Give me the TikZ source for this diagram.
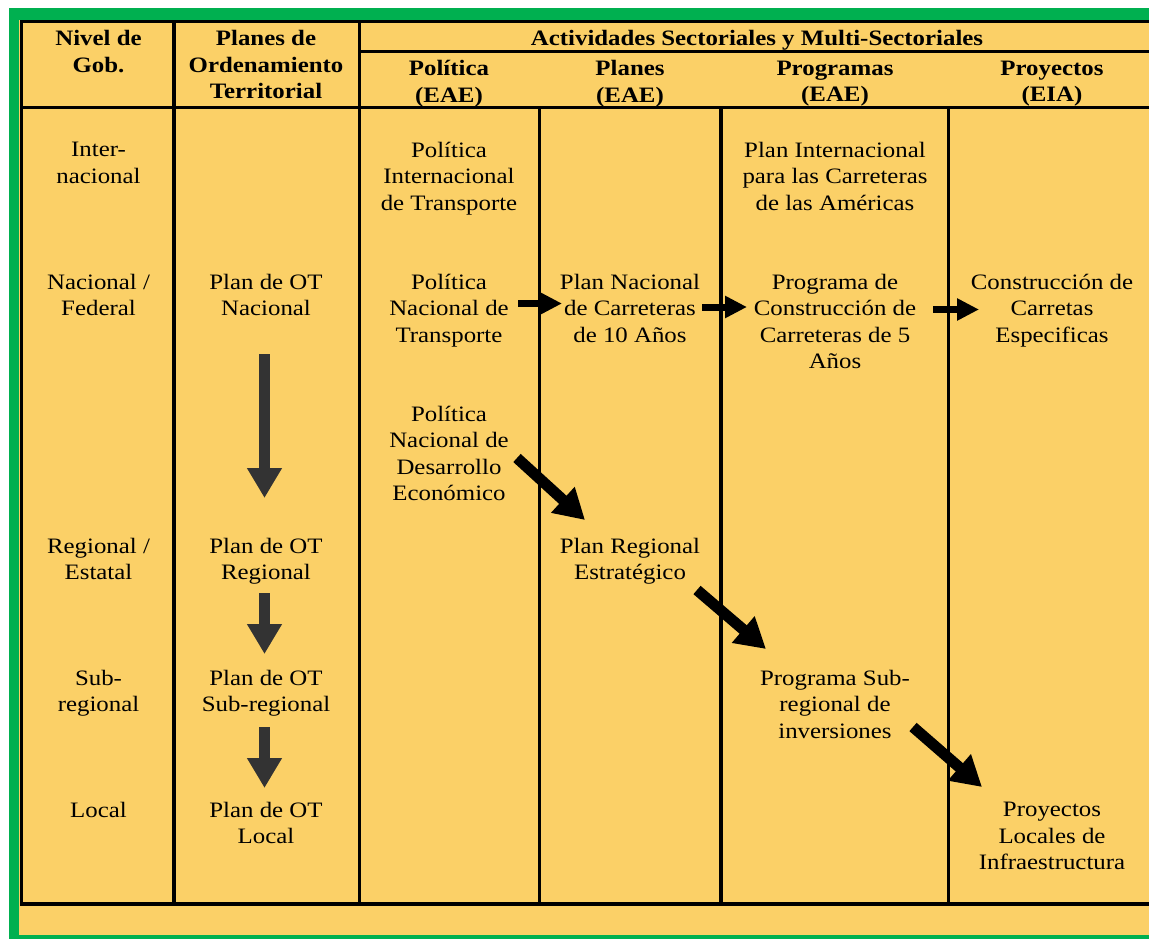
\documentclass[tikz,border=0pt]{standalone}
\usepackage{fontspec}
\setmainfont{Liberation Serif}[FakeStretch=1.13]
\usetikzlibrary{arrows.meta}
\definecolor{bgyellow}{HTML}{FBD067}
\definecolor{framegreen}{HTML}{00B050}
\definecolor{darkarrow}{HTML}{333333}
\begin{document}
\begin{tikzpicture}[x=1pt,y=-1pt,
  txt/.style={anchor=north, align=center, inner sep=0pt, font=\fontsize{22}{26.4}\selectfont},
  hdr/.style={anchor=north, align=center, inner sep=0pt, font=\fontsize{22}{26.6}\selectfont\bfseries},
  gridline/.style={line width=3.5pt},
  bigarrow/.style={darkarrow, line width=11pt, -{Triangle[width=33pt,length=30pt]}},
  diagarrow/.style={black, line width=11pt, -{Triangle[width=33pt,length=30pt]}},
  smallarrow/.style={black, line width=7pt, -{Triangle[width=21pt,length=22pt]}},
]
\useasboundingbox (0,0) rectangle (1149,939);
% background and frame
\fill[framegreen] (9,8) rectangle (1149,939);
\fill[bgyellow] (19,20) rectangle (1149,935);
% table lines
\draw[gridline] (1149,21.5) -| (21.5,904) -- (1149,904);
\draw[gridline] (21.5,107.5) -- (1149,107.5);
\draw[gridline] (359.5,51.5) -- (1149,51.5);
\draw[gridline] (174,21.5) -- (174,904);
\draw[gridline] (359.5,21.5) -- (359.5,904);
\draw[gridline] (539.5,107.5) -- (539.5,904);
\draw[gridline] (721,107.5) -- (721,904);
\draw[gridline] (948.5,107.5) -- (948.5,904);
% header
\node[hdr] (hnivel) at (98.5,30) {Nivel de\\Gob.};
\node[hdr] (hplanesot) at (266,30) {Planes de\\Ordenamiento\\Territorial};
\node[hdr] (hact) at (757,30) {Actividades Sectoriales y Multi-Sectoriales};
\node[hdr] (hpol) at (449,60.5) {Política\\(EAE)};
\node[hdr] (hpla) at (630,60.5) {Planes\\(EAE)};
\node[hdr] (hprg) at (835,60.5) {Programas\\(EAE)};
\node[hdr] (hpry) at (1052,60.5) {Proyectos\\(EIA)};
% column 1
\node[txt] (lint) at (98.5,142) {Inter-\\nacional};
\node[txt] (lnac) at (98.5,274) {Nacional /\\Federal};
\node[txt] (lreg) at (98.5,538) {Regional /\\Estatal};
\node[txt] (lsub) at (98.5,670) {Sub-\\regional};
\node[txt] (lloc) at (98.5,802) {Local};
% column 2
\node[txt] (otn) at (266,274) {Plan de OT\\Nacional};
\node[txt] (otr) at (266,538) {Plan de OT\\Regional};
\node[txt] (ots) at (266,670) {Plan de OT\\Sub-regional};
\node[txt] (otl) at (266,802) {Plan de OT\\Local};
% column 3
\node[txt] (pit) at (449,142) {Política\\Internacional\\de Transporte};
\node[txt] (pnt) at (449,274) {Política\\Nacional de\\Transporte};
\node[txt] (pnd) at (449,406) {Política\\Nacional de\\Desarrollo\\Económico};
% column 4
\node[txt] (pnc) at (630,274) {Plan Nacional\\de Carreteras\\de 10 Años};
\node[txt] (pre) at (630,538) {Plan Regional\\Estratégico};
% column 5
\node[txt] (pic) at (835,142) {Plan Internacional\\para las Carreteras\\de las Américas};
\node[txt] (pcc) at (835,274) {Programa de\\Construcción de\\Carreteras de 5\\Años};
\node[txt] (psi) at (835,670) {Programa Sub-\\regional de\\inversiones};
% column 6
\node[txt] (cce) at (1052,274) {Construcción de\\Carretas\\Especificas};
\node[txt] (pli) at (1052,802) {Proyectos\\Locales de\\Infraestructura};
% arrow end points
\coordinate (va1) at (264.5,354);
\coordinate (vb1) at (264.5,498);
\coordinate (va2) at (264.5,593);
\coordinate (vb2) at (264.5,654);
\coordinate (va3) at (264.5,727);
\coordinate (vb3) at (264.5,788);
\coordinate (ha1) at (518,303.5);
\coordinate (hb1) at (562,303.5);
\coordinate (ha2) at (702,307);
\coordinate (hb2) at (747,307);
\coordinate (ha3) at (933,309.5);
\coordinate (hb3) at (979,309.5);
\coordinate (da1) at (517,458);
\coordinate (db1) at (585,520);
\coordinate (da2) at (697,590);
\coordinate (db2) at (766,649);
\coordinate (da3) at (913,727);
\coordinate (db3) at (982,787);
% arrows
\draw[bigarrow] (va1) -- (vb1);
\draw[bigarrow] (va2) -- (vb2);
\draw[bigarrow] (va3) -- (vb3);
\draw[smallarrow] (ha1) -- (hb1);
\draw[smallarrow] (ha2) -- (hb2);
\draw[smallarrow] (ha3) -- (hb3);
\draw[diagarrow] (da1) -- (db1);
\draw[diagarrow] (da2) -- (db2);
\draw[diagarrow] (da3) -- (db3);
\end{tikzpicture}
\end{document}
